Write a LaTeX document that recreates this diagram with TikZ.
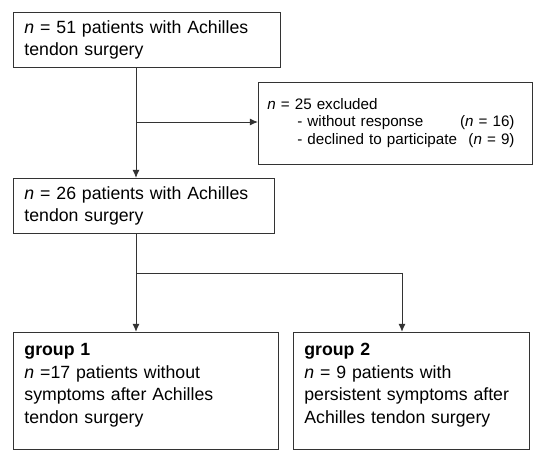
\documentclass[tikz,border=0pt]{standalone}
\usepackage{fontspec}
\setmainfont{Liberation Sans}
\usepackage{tikz}
\usetikzlibrary{arrows.meta, positioning}

\begin{document}
\begin{tikzpicture}[
    x=1pt, y=1pt,
    box/.style={rectangle, draw=black!80, line width=0.9pt, inner xsep=11pt, inner ysep=4pt, align=left,
        font=\fontsize{17.7}{22.5}\selectfont},
    arrow/.style={-{Latex[length=8pt, width=7pt]}, draw=black!80, line width=0.9pt},
    line/.style={draw=black!80, line width=0.9pt}
]
    \useasboundingbox (0,0) rectangle (550,-462);

    \node[box, anchor=north west, text width=245pt, minimum height=55pt] (total) at (13,-12)
        {\textit{n} = 51 patients with Achilles\\tendon surgery};
    \node[box, inner xsep=9pt, text width=256pt, minimum height=82pt,
        font=\fontsize{15.2}{17.5}\selectfont,
        below right=14pt and -23pt of total.south east, anchor=north west] (excluded)
        {\begin{tabular}{@{}l@{}r@{}}
            \multicolumn{2}{@{}l}{\textit{n} = 25 excluded}\\
            \hspace*{30pt}- without response & (\textit{n} = 16)\\
            \hspace*{30pt}- declined to participate\hspace*{3pt} & (\textit{n} = 9)
        \end{tabular}};
    \node[box, text width=239pt, minimum height=55pt,
        below=110pt of total.south west, anchor=north west] (included)
        {\textit{n} = 26 patients with Achilles\\tendon surgery};
    \node[box, text width=243pt, minimum height=117pt,
        below=98pt of included.south west, anchor=north west] (group1)
        {\textbf{group 1}\\\textit{n} =17 patients without\\symptoms after Achilles\\tendon surgery\\[-8pt]\mbox{}};
    \node[box, text width=214pt, minimum height=117pt,
        right=14pt of group1.north east, anchor=north west] (group2)
        {\textbf{group 2}\\\textit{n} = 9 patients with\\persistent symptoms after\\Achilles tendon surgery\\[-8pt]\mbox{}};

    \coordinate (split1) at (136,-122);
    \coordinate (split2) at (136,-273);
    \coordinate (corner2) at (402,-273);

    \draw[arrow] (total.south -| split1) -- (included.north -| split1);
    \draw[arrow] (split1) -- (excluded.west |- split1);
    \draw[arrow] (included.south -| split2) -- (group1.north -| split2);
    \draw[line] (split2) -- (corner2);
    \draw[arrow] (corner2) -- (group2.north -| corner2);
\end{tikzpicture}
\end{document}
